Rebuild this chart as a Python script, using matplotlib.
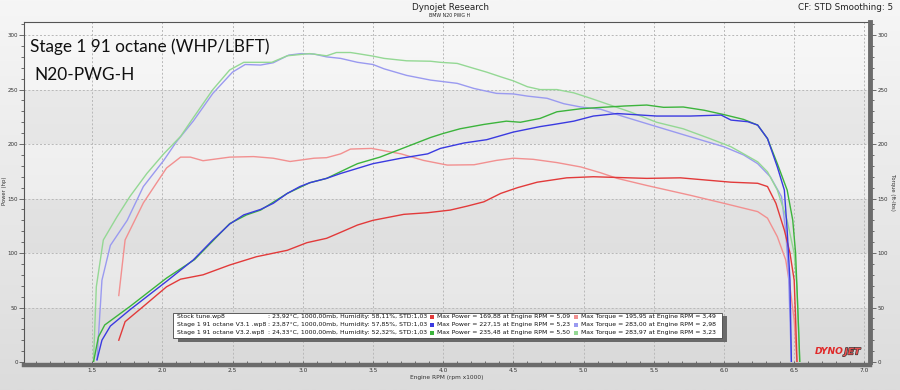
import numpy as np
import matplotlib
matplotlib.use("Agg")
import matplotlib.pyplot as plt
from matplotlib.patches import Rectangle
from matplotlib.ticker import MultipleLocator, FixedLocator
import matplotlib.patheffects as pe

# ---------------- data ----------------
stock_hp_rpm = [1.69, 1.735, 1.865, 2.03, 2.13, 2.29, 2.48, 2.67, 2.89, 3.03, 3.17, 3.27, 3.39, 3.50,
                3.72, 3.89, 4.05, 4.17, 4.29, 4.41, 4.53, 4.67, 4.88, 5.07, 5.45, 5.69, 6.05, 6.24,
                6.31, 6.37, 6.43, 6.47, 6.50, 6.51, 6.52]
stock_hp = [20, 37, 51, 69, 76, 80, 89, 96.6, 102.5, 109.5, 113.5, 119, 125.7, 130,
            135.5, 137, 139.4, 143, 147, 154.7, 160, 165, 169, 170, 168.5, 169, 165, 164,
            161, 145.6, 121, 100, 75, 40, 0]

stock_tq_rpm = [1.69, 1.735, 1.865, 2.03, 2.13, 2.20, 2.29, 2.48, 2.65, 2.79, 2.91, 3.08, 3.17, 3.27,
                3.34, 3.49, 3.70, 3.86, 4.03, 4.22, 4.38, 4.50, 4.64, 4.81, 4.98, 5.12, 5.24, 5.45,
                5.76, 6.00, 6.24, 6.31, 6.38, 6.44, 6.47, 6.50, 6.52]
stock_tq = [61, 112, 146, 178, 188, 188, 184.7, 188, 188.5, 187, 184, 187, 187.5, 191,
            195.4, 196, 191, 185, 180.7, 181, 185, 187, 186, 183, 179, 173.7, 168.5, 162,
            153, 145.6, 138, 132, 115, 93.6, 69, 38.5, 0]

v31_hp_rpm = [1.535, 1.57, 1.63, 1.77, 2.03, 2.22, 2.36, 2.48, 2.58, 2.70, 2.79, 2.89, 2.98, 3.05,
              3.17, 3.27, 3.50, 3.70, 3.89, 3.98, 4.15, 4.31, 4.50, 4.69, 4.79, 4.93, 5.07, 5.24,
              5.52, 5.76, 5.98, 6.05, 6.17, 6.24, 6.31, 6.38, 6.43, 6.45, 6.47, 6.48]
v31_hp = [2, 20, 33, 48, 74, 93.6, 112, 126.6, 135, 140, 145.6, 154.7, 161, 164.5,
          168.5, 173, 182, 187, 191, 196, 201, 204, 211, 216, 218, 221, 225.7, 228,
          225.7, 225.7, 226.6, 222, 220.5, 217.4, 205, 179, 157.8, 121, 75, 0]

v31_tq_rpm = [1.535, 1.57, 1.63, 1.75, 1.865, 2.01, 2.10, 2.22, 2.36, 2.50, 2.59, 2.70, 2.79, 2.90,
              2.99, 3.08, 3.17, 3.27, 3.39, 3.50, 3.58, 3.74, 3.91, 4.10, 4.22, 4.38, 4.50, 4.60,
              4.74, 4.86, 4.98, 5.12, 5.29, 5.52, 5.76, 6.00, 6.14, 6.24, 6.33, 6.41, 6.44, 6.46, 6.48]
v31_tq = [2, 75, 107, 130, 161, 185, 202, 221, 246.5, 266, 273, 272.5, 274.6, 281.6,
          283, 282.6, 280, 278.6, 275, 273, 269, 263, 258.7, 255.7, 251, 246.5, 246, 244,
          242, 237, 234, 232, 225, 216, 206.7, 197.5, 190, 182, 170, 151.7, 120, 80, 0]

v32_hp_rpm = [1.51, 1.545, 1.59, 1.77, 2.03, 2.23, 2.48, 2.60, 2.70, 2.89, 3.05, 3.17, 3.34, 3.39,
              3.55, 3.74, 3.91, 4.00, 4.12, 4.29, 4.45, 4.55, 4.69, 4.81, 4.98, 5.12, 5.29, 5.45,
              5.57, 5.71, 5.86, 6.00, 6.14, 6.24, 6.31, 6.38, 6.45, 6.49, 6.51, 6.53, 6.54]
v32_hp = [0, 23, 34, 51, 77, 94, 127, 135, 139.4, 154.7, 164.5, 168.5, 179, 182,
          188, 197.5, 206, 209.7, 214, 218, 221, 220, 223.5, 229.6, 232.4, 233.6, 234.9, 235.8,
          233.7, 234, 231, 227, 222.6, 217.4, 205, 182, 157.8, 130, 100, 35, 0]

v32_tq_rpm = [1.51, 1.53, 1.58, 1.676, 1.77, 1.89, 2.01, 2.13, 2.22, 2.36, 2.48, 2.58, 2.67, 2.78,
              2.89, 3.05, 3.17, 3.24, 3.34, 3.39, 3.50, 3.58, 3.74, 3.91, 3.98, 4.10, 4.22, 4.31,
              4.41, 4.50, 4.60, 4.69, 4.81, 4.93, 5.05, 5.19, 5.33, 5.52, 5.71, 5.90, 6.05, 6.14,
              6.24, 6.31, 6.38, 6.45, 6.50, 6.52, 6.54]
v32_tq = [0, 69, 112, 133, 152, 173, 191, 207, 224, 250, 268, 275, 275, 275,
          281, 283, 281, 284, 284, 283, 280.7, 278.6, 276.4, 276, 275, 274, 269.4, 266,
          261.7, 258, 252.6, 250, 250, 247, 242, 235.8, 229.6, 220, 214, 205, 197.5, 191,
          183.7, 174.5, 157.8, 130, 99.7, 69, 0]

run_names = ["Stock tune.wp8", "Stage 1 91 octane V3.1 .wp8", "Stage 1 91 octane V3.2.wp8"]
run_conditions = [": 23,92°C, 1000,00mb, Humidity: 58,11%, STD:1,03",
                  ": 23,87°C, 1000,00mb, Humidity: 57,85%, STD:1,03",
                  ": 24,33°C, 1000,00mb, Humidity: 52,32%, STD:1,03"]
max_power_txt = ["Max Power = 169,88 at Engine RPM = 5,09",
                 "Max Power = 227,15 at Engine RPM = 5,23",
                 "Max Power = 235,48 at Engine RPM = 5,50"]
max_torque_txt = ["Max Torque = 195,95 at Engine RPM = 3,49",
                  "Max Torque = 283,00 at Engine RPM = 2,98",
                  "Max Torque = 283,97 at Engine RPM = 3,23"]

x_ticks = [1.5, 2.0, 2.5, 3.0, 3.5, 4.0, 4.5, 5.0, 5.5, 6.0, 6.5, 7.0]
y_ticks = [0, 50, 100, 150, 200, 250, 300]

# ---------------- styling ----------------
W, H = 900, 390
hp_colors = ["#e23a3a", "#3a3ae0", "#3cb43c"]
tq_colors = ["#f29090", "#9a9af0", "#94d894"]

fig = plt.figure(figsize=(9, 3.9), dpi=100)

def fx(x):
    return x / W

def fy(y):
    return 1 - y / H

# figure background gradient
bg = fig.add_axes([0, 0, 1, 1], zorder=-10)
grad = np.linspace(0, 1, 256).reshape(-1, 1)
bg.imshow(grad, aspect="auto", cmap=matplotlib.colors.LinearSegmentedColormap.from_list(
    "bg", ["#f6f6f6", "#dcdcdc"]), extent=[0, 1, 0, 1], origin="upper")
bg.set_axis_off()

ax = fig.add_axes([fx(24), fy(362), fx(870) - fx(24), fy(22) - fy(362)])
ax.set_xlim(1.015, 7.04)
ax.set_ylim(0, 312)

# plot-area gradient + bands
ax.imshow(grad, aspect="auto", cmap=matplotlib.colors.LinearSegmentedColormap.from_list(
    "pa", ["#f8f8f8", "#e4e4e4"]), extent=[1.015, 7.04, 0, 312], origin="upper", zorder=0)
for lo in (0, 100, 200):
    ax.axhspan(lo, lo + 50, color="#000000", alpha=0.045, lw=0, zorder=0.5)

for xv in x_ticks:
    ax.axvline(xv, color="#b8b8b8", lw=0.7, ls=(0, (2, 2)), zorder=1)
for yv in y_ticks[1:]:
    ax.axhline(yv, color="#b8b8b8", lw=0.7, ls=(0, (2, 2)), zorder=1)

# curves
ax.plot(stock_tq_rpm, stock_tq, color=tq_colors[0], lw=1.0, zorder=3)
ax.plot(v31_tq_rpm, v31_tq, color=tq_colors[1], lw=1.0, zorder=3)
ax.plot(v32_tq_rpm, v32_tq, color=tq_colors[2], lw=1.0, zorder=3)
ax.plot(stock_hp_rpm, stock_hp, color=hp_colors[0], lw=1.0, zorder=4)
ax.plot(v32_hp_rpm, v32_hp, color=hp_colors[2], lw=1.0, zorder=4)
ax.plot(v31_hp_rpm, v31_hp, color=hp_colors[1], lw=1.0, zorder=4)

# axes styling
for s in ("top", "left"):
    ax.spines[s].set_color("#555555")
    ax.spines[s].set_linewidth(0.8)
ax.spines["right"].set_visible(False)
ax.spines["bottom"].set_color("#6b6b6b")
ax.spines["bottom"].set_linewidth(3.2)
ax.spines["bottom"].set_position(("outward", 2))

ax.xaxis.set_major_locator(FixedLocator(x_ticks))
ax.xaxis.set_minor_locator(FixedLocator([round(1.1 + 0.1 * i, 2) for i in range(60)]))
ax.set_xticklabels([f"{v:.1f}" for v in x_ticks])
ax.tick_params(axis="x", which="both", direction="in", length=3, width=0.6, color="#555555",
               labelsize=4.2, labelcolor="#333333", pad=2.5)
ax.yaxis.set_major_locator(FixedLocator(y_ticks))
ax.yaxis.set_minor_locator(MultipleLocator(10))
ax.tick_params(axis="y", which="major", direction="out", length=3.5, width=0.6, color="#555555",
               labelsize=4.0, labelcolor="#333333", pad=1.0)
ax.tick_params(axis="y", which="minor", direction="out", length=2.5, width=0.6, color="#555555")

ax2 = ax.twinx()
ax2.set_ylim(0, 312)
ax2.spines["right"].set_color("#6b6b6b")
ax2.spines["right"].set_linewidth(3.5)
for s in ("top", "left", "bottom"):
    ax2.spines[s].set_visible(False)
ax2.yaxis.set_major_locator(FixedLocator(y_ticks))
ax2.yaxis.set_minor_locator(MultipleLocator(10))
ax2.tick_params(axis="y", which="major", direction="out", length=4.5, width=0.6, color="#555555",
                labelsize=4.0, labelcolor="#333333", pad=1.0)
ax2.tick_params(axis="y", which="minor", direction="out", length=3, width=0.6, color="#555555")

fig.text(fx(4.5), fy(191), "Power (hp)", rotation=90, ha="center", va="center", fontsize=3.8,
         color="#333333")
fig.text(fx(892), fy(192), "Torque (ft-lbs)", rotation=-90, ha="center", va="center",
         fontsize=3.8, color="#333333")
fig.text(fx(447), fy(377), "Engine RPM (rpm x1000)", ha="center", va="center", fontsize=4.2,
         color="#333333")

# header texts
fig.text(fx(450), fy(7), "Dynojet Research", ha="center", va="center", fontsize=6.3,
         color="#222222")
fig.text(fx(450), fy(15.5), "BMW N20 PWG H", ha="center", va="center", fontsize=3.4,
         color="#222222")
fig.text(fx(893), fy(7), "CF: STD Smoothing: 5", ha="right", va="center", fontsize=6.3,
         color="#222222")

fig.text(fx(30), fy(47), "Stage 1 91 octane (WHP/LBFT)", ha="left", va="center", fontsize=12.4,
         family="Lato", color="#111111")
fig.text(fx(34), fy(75), "N20-PWG-H", ha="left", va="center", fontsize=12.4, family="Lato",
         color="#111111")

# legend box
fig.patches.append(Rectangle((fx(178), fy(342)), fx(727) - fx(178), fy(316) - fy(342),
                             transform=fig.transFigure, facecolor="#6a6a6a", edgecolor="none",
                             zorder=5))
fig.patches.append(Rectangle((fx(173), fy(337.5)), fx(722) - fx(173), fy(312.5) - fy(337.5),
                             transform=fig.transFigure, facecolor="white", edgecolor="#444444",
                             lw=0.6, zorder=6))
rows_y = [316.7, 324.7, 332.7]
for i in range(3):
    yy = fy(rows_y[i])
    fig.text(fx(177), yy, run_names[i], ha="left", va="center", fontsize=4.45, color="#111111",
             zorder=7)
    fig.text(fx(268.5), yy, run_conditions[i], ha="left", va="center", fontsize=4.45,
             color="#111111", zorder=7)
    fig.patches.append(Rectangle((fx(430), yy - 2 / H), 4 / W, 4 / H, transform=fig.transFigure,
                                 facecolor=hp_colors[i], edgecolor="none", zorder=7))
    fig.text(fx(437), yy, max_power_txt[i], ha="left", va="center", fontsize=4.45,
             color="#111111", zorder=7)
    fig.patches.append(Rectangle((fx(574), yy - 2 / H), 4 / W, 4 / H, transform=fig.transFigure,
                                 facecolor=tq_colors[i], edgecolor="none", zorder=7))
    fig.text(fx(581), yy, max_torque_txt[i], ha="left", va="center", fontsize=4.45,
             color="#111111", zorder=7)

# logo
t1 = fig.text(fx(815), fy(352), "DYNO", ha="left", va="center", fontsize=6.6, fontweight="bold",
              style="italic", color="#e02828", zorder=8)
fig.canvas.draw()
bb = t1.get_window_extent(renderer=fig.canvas.get_renderer())
fig.text(bb.x1 / fig.bbox.width + 0.5 / W, fy(352), "JET", ha="left", va="center", fontsize=6.6,
         fontweight="bold", style="italic", color="#e85050", zorder=8,
         path_effects=[pe.withStroke(linewidth=0.9, foreground="#333333")])

fig.savefig("out.png", dpi=100)
